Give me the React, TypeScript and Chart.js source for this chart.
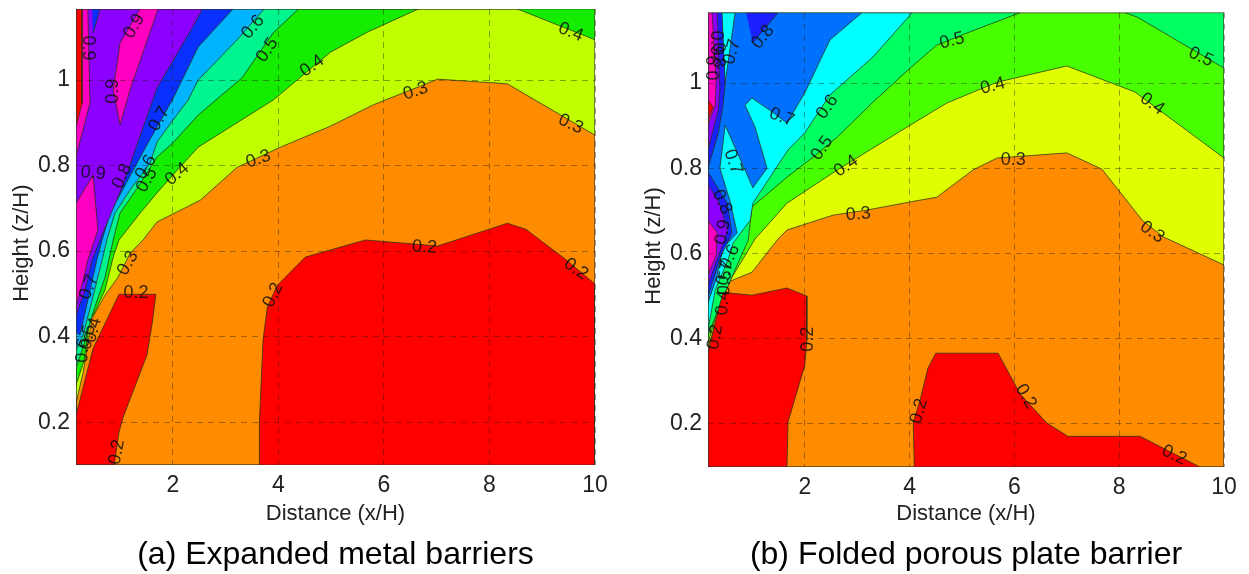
import React, { useEffect, useRef } from "react";
import { Chart, registerables } from "chart.js";
Chart.register(...registerables);

type P = [number, number];
type L = [number, number, string, number];

const xTicks = [2, 4, 6, 8, 10];
const yTicks = [0.2, 0.4, 0.6, 0.8, 1];
const xLabelText = "Distance (x/H)";
const yLabelText = "Height (z/H)  ";
const captionA = "(a) Expanded metal barriers";
const captionB = "(b) Folded porous plate barrier";

const aX = [0.165, 10];
const aY = [0.1, 1.166];
const a03: P[] = [[0.165,0.244],[0.298,0.315],[0.469,0.443],[0.715,0.497],[0.962,0.539],[1.19,0.595],[1.436,0.626],[1.7,0.668],[2.52,0.719],[3.22,0.796],[4.04,0.843],[4.985,0.892],[5.8,0.942],[7.02,1.002],[8.34,0.991],[10,0.871],[10,1.166],[0.165,1.166]];
const a04: P[] = [[0.165,0.287],[0.32,0.345],[0.43,0.443],[0.49,0.45],[0.715,0.509],[0.87,0.586],[0.98,0.626],[1.38,0.689],[1.7,0.736],[2,0.778],[2.48,0.843],[3.9,0.953],[4.985,1.065],[5.69,1.112],[6.65,1.166],[0.165,1.166]];
const a04Right: P[] = [[8.53,1.166],[10,1.094],[10,1.166]];
const a05: P[] = [[0.165,0.326],[0.3,0.375],[0.47,0.45],[0.715,0.539],[0.87,0.626],[1,0.689],[1.34,0.75],[1.7,0.82],[2,0.853],[2.48,0.918],[3.31,1.005],[3.9,1.11],[4.38,1.166],[0.165,1.166]];
const a06: P[] = [[0.165,0.368],[0.3,0.404],[0.47,0.485],[0.66,0.579],[0.75,0.626],[0.905,0.689],[1.19,0.743],[1.57,0.806],[1.7,0.855],[2,0.906],[2.29,0.953],[2.48,1],[3.22,1.094],[3.73,1.166],[0.165,1.166]];
const a07: P[] = [[0.165,0.41],[0.24,0.404],[0.39,0.485],[0.56,0.579],[0.66,0.626],[0.81,0.689],[1.53,0.853],[1.99,0.953],[2.48,1.077],[3.14,1.166],[0.165,1.166]];
const a08: P[] = [[0.165,0.446],[0.2,0.462],[0.34,0.509],[0.47,0.579],[0.62,0.626],[1.04,0.75],[1.42,0.883],[1.7,0.981],[2.42,1.133],[2.56,1.166],[0.165,1.166]];
const a08Top: P[] = [[0.47,1.166],[0.62,1.166],[0.49,1.11]];
const a09Low: P[] = [[0.165,0.712],[0.49,0.778],[0.58,0.649],[0.39,0.579],[0.3,0.532],[0.165,0.469]];
const a09Mid: P[] = [[1.38,1.166],[1,1.087],[0.87,0.977],[1,0.895],[1.19,0.977],[1.72,1.166]];
const a09Top: P[] = [[0.165,1.166],[0.39,1.166],[0.43,0.946],[0.165,0.82]];
const a10Top: P[] = [[0.165,1.166],[0.28,1.166],[0.28,0.946],[0.165,0.89]];
const a02Left: P[] = [[0.165,0.216],[0.49,0.373],[0.98,0.499],[1.68,0.499],[1.61,0.432],[1.51,0.357],[1.06,0.212],[0.98,0.177],[0.89,0.1],[0.165,0.1]];
const a02Right: P[] = [[3.64,0.1],[3.64,0.2],[3.71,0.392],[3.79,0.469],[3.98,0.52],[4.51,0.586],[5.65,0.626],[7.02,0.612],[8.34,0.665],[8.69,0.651],[9.41,0.584],[10,0.523],[10,0.1]];

const bX = [0.153, 10];
const bY = [0.099, 1.165];
const b03: P[] = [[0.153,0.378],[0.31,0.444],[0.535,0.533],[0.99,0.556],[1.49,0.634],[1.66,0.655],[2.54,0.69],[3.19,0.702],[4.01,0.721],[4.52,0.732],[5.21,0.796],[5.67,0.824],[7,0.836],[7.67,0.798],[8.44,0.678],[8.84,0.639],[10,0.573],[10,1.165],[0.153,1.165]];
const b04: P[] = [[0.153,0.39],[0.34,0.467],[0.59,0.54],[1.05,0.634],[1.66,0.718],[2.62,0.796],[4.01,0.901],[4.71,0.953],[5.67,1.002],[7,1.04],[8.3,0.979],[10,0.824],[10,1.165],[0.153,1.165]];
const b05: P[] = [[0.153,0.408],[0.38,0.479],[0.61,0.545],[0.92,0.631],[0.99,0.709],[1.66,0.779],[2.16,0.826],[2.62,0.873],[3.3,0.955],[4.01,1.035],[4.52,1.089],[5.15,1.12],[6.11,1.165],[0.153,1.165]];
const b05Right: P[] = [[8.11,1.165],[8.34,1.155],[10,1.035],[10,1.165]];
const b06: P[] = [[0.153,0.42],[0.29,0.514],[0.535,0.585],[0.63,0.624],[0.96,0.678],[1.01,0.718],[1.68,0.843],[2,0.883],[2.48,0.972],[3.3,1.061],[4.05,1.165],[0.153,1.165]];
const b07: P[] = [[3.09,1.165],[2.48,1.101],[2,0.977],[1.66,0.906],[1.38,0.932],[0.99,0.965],[0.86,0.948],[1.05,0.897],[1.28,0.8],[1.01,0.754],[0.48,0.901],[0.38,0.8],[0.57,0.725],[0.71,0.648],[0.44,0.613],[0.32,0.545],[0.153,0.484],[0.153,1.165]];
const b07Strip: P[] = [[0.42,1.165],[0.67,1.165],[0.48,1]];
const b08Top: P[] = [[0.88,1.165],[1.49,1.165],[1.01,1.094]];
const b08Left: P[] = [[0.42,1.165],[0.48,1],[0.44,0.948],[0.35,0.883],[0.153,0.8],[0.153,1.165]];
const b08Low: P[] = [[0.153,0.791],[0.52,0.718],[0.61,0.648],[0.38,0.589],[0.153,0.5]];
const b09Left: P[] = [[0.33,1.165],[0.38,0.984],[0.35,0.937],[0.153,0.843],[0.153,1.165]];
const b09Low: P[] = [[0.153,0.761],[0.35,0.725],[0.535,0.655],[0.29,0.573],[0.153,0.526]];
const b10Left: P[] = [[0.23,1.165],[0.31,1.007],[0.29,0.948],[0.153,0.901],[0.153,1.165]];
const b10Low: P[] = [[0.153,0.678],[0.33,0.648],[0.31,0.596],[0.153,0.549]];
const b11Left: P[] = [[0.153,0.96],[0.25,0.944],[0.153,0.913]];
const b02Left: P[] = [[0.153,0.366],[0.29,0.437],[0.44,0.509],[0.99,0.502],[1.66,0.519],[2.04,0.5],[2.04,0.397],[2,0.338],[1.68,0.204],[1.66,0.099],[0.153,0.099]];
const b02Right: P[] = [[4.09,0.099],[4.07,0.204],[4.2,0.256],[4.35,0.331],[4.5,0.366],[5.69,0.366],[6.11,0.27],[6.62,0.202],[7.02,0.171],[8.4,0.171],[9.54,0.099]];

const aLabels: L[] = [[1.27,1.126,"0.9",-60],[0.39,1.075,"0.9",90],[0.87,0.974,"0.9",-90],[0.49,0.782,"0.9",5],[1.04,0.775,"0.8",-65],[1.74,0.909,"0.7",-60],[1.49,0.796,"0.6",-60],[1.51,0.766,"0.5",-60],[2.08,0.78,"0.4",-40],[3.52,1.124,"0.6",-50],[3.79,1.07,"0.5",-55],[4.64,1.033,"0.4",-35],[3.62,0.815,"0.3",-18],[9.54,1.112,"0.4",22],[6.6,0.974,"0.3",-18],[9.54,0.897,"0.3",25],[6.77,0.609,"0.2",3],[9.64,0.558,"0.2",35],[1.15,0.572,"0.3",-60],[0.41,0.516,"0.7",-70],[1.3,0.502,"0.2",0],[0.49,0.415,"0.4",-75],[0.39,0.399,"0.5",-80],[0.3,0.368,"0.6",-85],[3.9,0.497,"0.2",-65],[0.94,0.13,"0.2",-80]];
const bLabels: L[] = [[1.2,1.108,"0.8",-50],[0.61,1.073,"0.7",-75],[2.43,0.944,"0.6",-55],[2.33,0.847,"0.5",-55],[2.79,0.805,"0.4",-35],[3.02,0.692,"0.3",-5],[4.81,1.099,"0.5",-15],[1.56,0.92,"0.7",20],[0.63,0.815,"0.7",70],[0.42,0.721,"0.8",65],[0.44,0.65,"0.9",-80],[0.31,1.094,"0.9",90],[0.34,1.066,"0.8",90],[0.27,1.035,"0.9",-90],[0.57,0.592,"0.6",-65],[0.48,0.554,"0.7",-75],[0.48,0.531,"0.5",-85],[0.44,0.484,"0.4",-85],[0.29,0.404,"0.2",-80],[2.06,0.399,"0.2",-90],[4.18,0.23,"0.2",-75],[6.22,0.265,"0.2",60],[9.05,0.127,"0.2",25],[9.56,1.061,"0.5",25],[5.59,0.993,"0.4",-15],[8.63,0.951,"0.4",35],[5.98,0.819,"0.3",0],[8.63,0.65,"0.3",35]];

const RED = "#ff0000";
const ORANGE = "#ff8c00";
const MAGENTA = "#ff00c0";
const PURPLE = "#8c00ff";
const DEEP = "#1a20ff";

function poly(points: P[], color: string) {
  return {
    data: points.map(([x, y]) => ({ x, y })),
    backgroundColor: color,
    borderColor: "rgba(40,50,20,0.75)",
    borderWidth: 1,
    pointRadius: 0,
    showLine: true,
    tension: 0,
    fill: "shape",
  };
}
function rect(xr: number[], yr: number[]): P[] {
  return [[xr[0], yr[0]], [xr[1], yr[0]], [xr[1], yr[1]], [xr[0], yr[1]], [xr[0], yr[0]]];
}

const labelPlugin = {
  id: "contourLabels",
  afterDraw(chart: any) {
    const items: L[] = chart.options.plugins.contourLabels.items;
    const { ctx, scales } = chart;
    ctx.save();
    ctx.font = "18px 'Liberation Sans'";
    ctx.fillStyle = "rgba(15,15,15,0.85)";
    ctx.textAlign = "center";
    ctx.textBaseline = "middle";
    for (const [x, y, t, r] of items) {
      ctx.save();
      ctx.translate(scales.x.getPixelForValue(x), scales.y.getPixelForValue(y));
      ctx.rotate((r * Math.PI) / 180);
      ctx.fillText(t, 0, 0);
      ctx.restore();
    }
    ctx.restore();
  },
};

function Panel({ left, width, top, bottom, xr, yr, polys, labels, caption }: any) {
  const ref = useRef<HTMLCanvasElement>(null);
  useEffect(() => {
    const font = { family: "'Liberation Sans'", size: 22 };
    const tickFont = { family: "'Liberation Sans'", size: 23 };
    // Chart.js paints dataset 0 last, so the painting order is reversed here.
    const painted = [{ ...poly(rect(xr, yr), "rgba(0,0,0,0)"), borderColor: "rgba(50,50,50,0.7)" }, ...[...polys].reverse()];
    const chart = new Chart(ref.current!, {
      type: "scatter",
      data: { datasets: painted },
      plugins: [labelPlugin],
      options: {
        responsive: false,
        animation: false,
        layout: { padding: { left: 0, right: 25, top, bottom: 0 } },
        plugins: {
          legend: { display: false },
          tooltip: { enabled: false },
          contourLabels: { items: labels },
          title: {
            display: true,
            position: "bottom",
            text: caption,
            fullSize: false,
            color: "#000",
            font: { family: "'Liberation Sans'", size: 32, weight: "normal", lineHeight: 1.2 },
            padding: 0,
          },
        } as any,
        scales: {
          x: {
            type: "linear",
            min: xr[0],
            max: xr[1],
            afterBuildTicks: (s: any) => { s.ticks = xTicks.map((value) => ({ value })); },
            afterFit: (s: any) => { s.height = 574 - 38.4 - bottom; s.paddingLeft = 0; s.paddingRight = 0; },
            grid: { z: 1, color: "rgba(40,30,10,0.42)", drawTicks: false, lineWidth: 1 },
            border: { dash: [6, 5], display: false },
            ticks: { color: "#222", font: tickFont, padding: 7, maxRotation: 0, autoSkip: false, callback: (v: any) => String(v) },
            title: { display: true, text: xLabelText, color: "#222", font, padding: { top: 2, bottom: 8 } },
          },
          y: {
            type: "linear",
            min: yr[0],
            max: yr[1],
            afterBuildTicks: (s: any) => { s.ticks = yTicks.map((value) => ({ value })); },
            afterFit: (s: any) => { s.width = 76; s.paddingTop = 0; s.paddingBottom = 0; },
            grid: { z: 1, color: "rgba(40,30,10,0.42)", drawTicks: false, lineWidth: 1 },
            border: { dash: [6, 5], display: false },
            ticks: { color: "#222", font: tickFont, padding: 6, autoSkip: false, callback: (v: any) => String(v) },
            title: { display: true, text: yLabelText, color: "#222", font, padding: { top: 9, bottom: 0 } },
          },
        },
      } as any,
    });
    return () => chart.destroy();
  }, []);
  return (
    <canvas
      ref={ref}
      width={width}
      height={574}
      style={{ position: "absolute", left, top: 0, width, height: 574, filter: "blur(0.4px)" }}
    />
  );
}

const polysA = [
  poly(rect(aX, aY), ORANGE),
  poly(a03, "#bfff00"),
  poly(a04, "#14ec00"),
  poly(a04Right, "#14ec00"),
  poly(a05, "#00f58f"),
  poly(a06, "#00b4ff"),
  poly(a07, "#0a30ff"),
  poly(a08, PURPLE),
  poly(a08Top, "#0a30ff"),
  poly(a09Low, MAGENTA),
  poly(a09Mid, MAGENTA),
  poly(a09Top, MAGENTA),
  poly(a10Top, RED),
  poly(a02Left, RED),
  poly(a02Right, RED),
];
const polysB = [
  poly(rect(bX, bY), ORANGE),
  poly(b03, "#dfff00"),
  poly(b04, "#48ff00"),
  poly(b05, "#00ff60"),
  poly(b05Right, "#00ff60"),
  poly(b06, "#00ffff"),
  poly(b07, "#0070ff"),
  poly(b07Strip, "#00ffff"),
  poly(b08Top, DEEP),
  poly(b08Left, DEEP),
  poly(b08Low, DEEP),
  poly(b09Left, PURPLE),
  poly(b09Low, PURPLE),
  poly(b10Left, MAGENTA),
  poly(b10Low, MAGENTA),
  poly(b11Left, RED),
  poly(b02Left, RED),
  poly(b02Right, RED),
];

export default function App() {
  return (
    <div style={{ position: "fixed", left: 0, top: 0, width: 1249, height: 574, overflow: "hidden", background: "#fff" }}>
      <Panel left={0} width={620} top={9} bottom={465} xr={aX} yr={aY} polys={polysA} labels={aLabels} caption={captionA} />
      <Panel left={632} width={617} top={12.7} bottom={467} xr={bX} yr={bY} polys={polysB} labels={bLabels} caption={captionB} />
    </div>
  );
}
